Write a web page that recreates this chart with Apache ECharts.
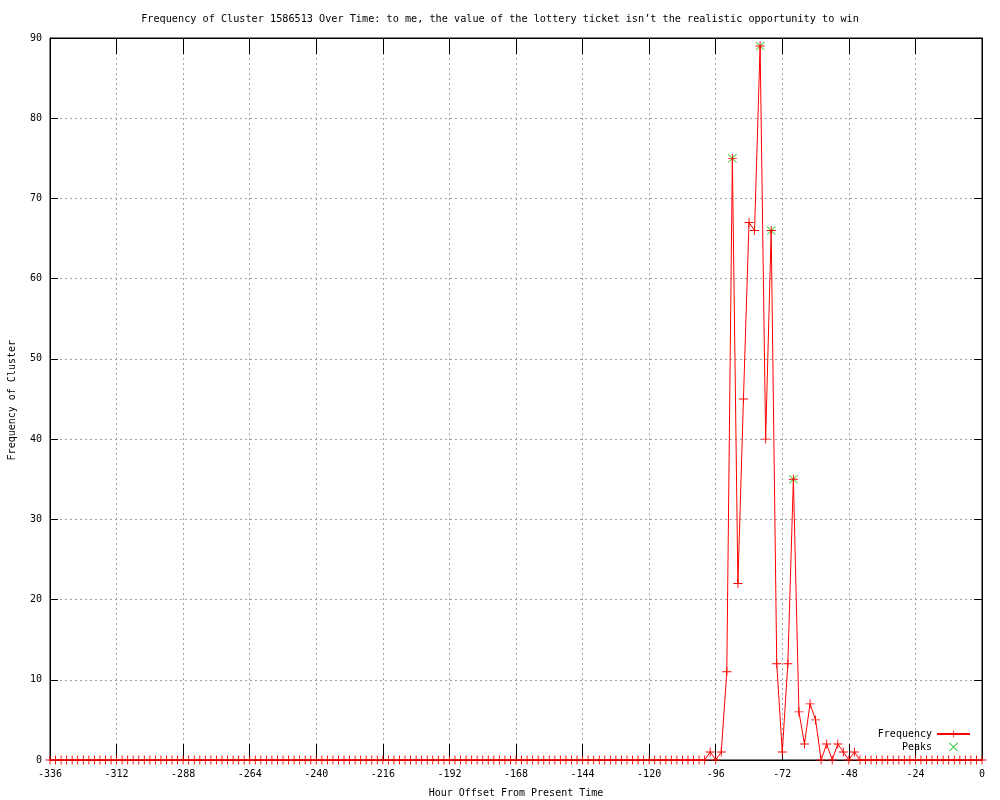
<!DOCTYPE html>
<html>
<head>
<meta charset="utf-8">
<script src="https://cdn.jsdelivr.net/npm/echarts@6/dist/echarts.min.js"></script>
<style>html,body{margin:0;padding:0;background:#fff}#c{width:1000px;height:800px}</style>
</head>
<body>
<div id="c"></div>
<script>
// Hours from -336 to 0, step 2 (169 samples)
const hourStart = -336;
const hourStep = 2;
// Frequency values per sample
const frequency = [
  0,0,0,0,0,0,0,0,0,0,0,0,
  0,0,0,0,0,0,0,0,0,0,0,0,
  0,0,0,0,0,0,0,0,0,0,0,0,
  0,0,0,0,0,0,0,0,0,0,0,0,
  0,0,0,0,0,0,0,0,0,0,0,0,
  0,0,0,0,0,0,0,0,0,0,0,0,
  0,0,0,0,0,0,0,0,0,0,0,0,
  0,0,0,0,0,0,0,0,0,0,0,0,
  0,0,0,0,0,0,0,0,0,0,0,0,
  0,0,0,0,0,0,0,0,0,0,0,
  // -98 .. -46
  1,0,1,11,75,22,45,67,66,89,40,66,12,1,12,35,6,2,7,5,0,2,0,2,1,0,1,
  // -44 .. 0
  0,0,0,0,0,0,0,0,0,0,0,0,0,0,0,0,0,0,0,0,0,0,0
];
const peakHours = [-90, -80, -76, -68];
const peakValues = [75, 89, 66, 35];
const xTicks = { min: -336, max: 0, interval: 24 };
const yTicks = { min: 0, max: 90, interval: 10 };
const titleText = 'Frequency of Cluster 1586513 Over Time: to me, the value of the lottery ticket isn\u2019t the realistic opportunity to win';
const xName = 'Hour Offset From Present Time';
const yName = 'Frequency of Cluster';

const freqData = frequency.map((v, i) => [hourStart + i * hourStep, v]);
const peakData = peakHours.map((h, i) => [h, peakValues[i]]);

const FONT = '"DejaVu Sans Mono", monospace';
const plusSym = 'path://M0,4.5L10,4.5L10,5.5L0,5.5Z M4.5,0L5.5,0L5.5,10L4.5,10Z';
const xSym = 'path://M0,0.7L0.7,0L10,9.3L9.3,10Z M9.3,0L10,0.7L0.7,10L0,9.3Z';
const gridLine = { show: true, lineStyle: { color: '#a0a0a0', type: [2, 3], width: 1 } };

const chart = echarts.init(document.getElementById('c'), null, { renderer: 'canvas' });
chart.setOption({
  animation: false,
  backgroundColor: '#fff',
  title: {
    text: titleText, left: 'center', top: 9,
    textStyle: { fontFamily: FONT, fontSize: 10.2, fontWeight: 'normal', color: '#000' }
  },
  grid: { left: 50, right: 18, top: 38, bottom: 40, outerBoundsMode: 'none', containLabel: false,
          show: true, borderColor: '#000', borderWidth: 1, backgroundColor: 'transparent' },
  legend: {
    orient: 'vertical', right: 24, top: 724, align: 'right',
    itemWidth: 33, itemHeight: 9, itemGap: 3,
    textStyle: { fontFamily: FONT, fontSize: 10, color: '#000' },
    data: [{ name: 'Frequency' }, { name: 'Peaks' }]
  },
  xAxis: [{
    type: 'value', min: xTicks.min, max: xTicks.max, interval: xTicks.interval,
    position: 'bottom',
    name: xName, nameLocation: 'middle', nameGap: 28,
    nameTextStyle: { fontFamily: FONT, fontSize: 10, color: '#000' },
    axisLine: { show: true, onZero: false, lineStyle: { color: '#000', width: 1 } },
    axisTick: { show: true, inside: true, length: 16, lineStyle: { color: '#000' } },
    axisLabel: { fontFamily: FONT, fontSize: 10, color: '#000', margin: 9 },
    splitLine: gridLine
  }, {
    type: 'value', min: xTicks.min, max: xTicks.max, interval: xTicks.interval,
    position: 'top',
    axisLine: { show: true, onZero: false, lineStyle: { color: '#000' } },
    axisTick: { show: true, inside: true, length: 16, lineStyle: { color: '#000' } },
    axisLabel: { show: false }, splitLine: { show: false }
  }],
  yAxis: [{
    type: 'value', min: yTicks.min, max: yTicks.max, interval: yTicks.interval,
    position: 'left',
    axisLine: { show: true, onZero: false, lineStyle: { color: '#000', width: 1 } },
    axisTick: { show: true, inside: true, length: 8, lineStyle: { color: '#000' } },
    axisLabel: { fontFamily: FONT, fontSize: 10, color: '#000', margin: 8 },
    splitLine: gridLine
  }, {
    type: 'value', min: yTicks.min, max: yTicks.max, interval: yTicks.interval,
    position: 'right',
    axisLine: { show: true, onZero: false, lineStyle: { color: '#000' } },
    axisTick: { show: true, inside: true, length: 8, lineStyle: { color: '#000' } },
    axisLabel: { show: false }, splitLine: { show: false }
  }],
  graphic: [{
    type: 'text', left: 7, top: 340,
    rotation: Math.PI / 2,
    style: { text: yName, fontFamily: FONT, fontSize: 10, fill: '#000' }
  }],
  series: [{
    name: 'Peaks', type: 'scatter', xAxisIndex: 0, yAxisIndex: 0,
    data: peakData, symbol: xSym, symbolSize: 9, z: 2,
    itemStyle: { color: '#00c000' }
  }, {
    name: 'Frequency', type: 'line', xAxisIndex: 0, yAxisIndex: 0,
    data: freqData, symbol: plusSym, symbolSize: 9, showSymbol: true, showAllSymbol: true, z: 3,
    lineStyle: { color: '#ff0000', width: 1 },
    itemStyle: { color: '#ff0000' },
    clip: false
  }]
});
</script>
</body>
</html>
